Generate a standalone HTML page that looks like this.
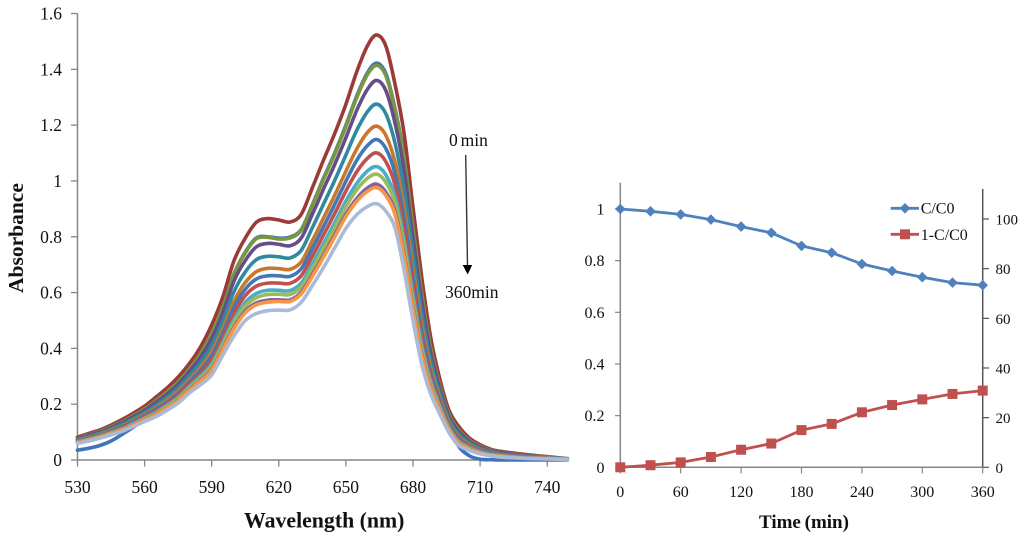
<!DOCTYPE html>
<html lang="en">
<head>
<meta charset="utf-8">
<title>Absorbance spectra and degradation over time</title>
<style>
html,body{margin:0;padding:0;background:#fff;}
svg{display:block;font-family:"Liberation Serif",serif;filter:blur(0.35px);}
text{fill:#111;}
.tl{font-size:17.5px;}
.tr{font-size:16px;}
</style>
</head>
<body>
<svg id="figure" xmlns="http://www.w3.org/2000/svg" width="1024" height="541" viewBox="0 0 1024 541">
  <rect width="1024" height="541" fill="#fff"/>
  <g id="spectra-chart"></g>
  <g id="kinetics-chart"></g>
  <text transform="translate(23,293) rotate(-90)" font-size="21.5" font-weight="bold">Absorbance</text>
  <text x="244" y="527.5" font-size="21.8" font-weight="bold">Wavelength (nm)</text>
  <text x="449" y="146" font-size="17.5" word-spacing="-1.5">0 min</text>
  <line x1="465.7" y1="155" x2="467.5" y2="266" stroke="#333" stroke-width="1.4"/>
  <polygon points="462.7,265 472.2,265 467.7,274.5" fill="#000"/>
  <text x="445" y="298" font-size="17.5">360min</text>
  <text x="759" y="528" font-size="19" font-weight="bold" word-spacing="-1">Time (min)</text>
  <g>
    <line x1="890.7" y1="208.3" x2="919" y2="208.3" stroke="#4f81bd" stroke-width="2.8"/>
    <polygon points="905,203 910.3,208.3 905,213.6 899.7,208.3" fill="#4f81bd"/>
    <text x="920.7" y="213.5" font-size="16">C/C0</text>
    <line x1="890.7" y1="234.3" x2="919" y2="234.3" stroke="#c0504d" stroke-width="2.8"/>
    <rect x="900" y="229.3" width="10" height="10" fill="#c0504d"/>
    <text x="920.7" y="240" font-size="16">1-C/C0</text>
  </g>
</svg>
<script>
const wavelengths = [530,535,540,545,550,555,560,565,570,575,580,585,590,595,600,605,610,615,620,625,630,635,640,645,650,655,660,664,668,672,676,680,684,688,692,696,700,705,710,715,720,730,740,749];
const spectrumBlue = [.035,.042,.052,.068,.092,.118,.145,.185,.235,.281,.327,.382,.453,.548,.668,.745,.796,.800,.795,.799,.826,.915,1.010,1.100,1.200,1.308,1.393,1.422,1.382,1.258,1.088,.836,.596,.400,.262,.145,.055,.016,.003,.001,0,0,0,0];
const spectrumMaroon = [.082,.095,.108,.125,.145,.168,.193,.225,.258,.297,.345,.405,.484,.585,.715,.795,.852,.865,.860,.853,.880,.975,1.075,1.170,1.275,1.395,1.490,1.523,1.480,1.345,1.170,.905,.650,.435,.290,.180,.125,.080,.055,.038,.030,.020,.012,.005];
const spectrumGreen = [.078,.090,.103,.119,.137,.159,.183,.212,.244,.280,.326,.381,.452,.547,.666,.742,.793,.798,.792,.796,.823,.912,1.006,1.096,1.195,1.302,1.386,1.414,1.374,1.252,1.082,.832,.594,.399,.267,.166,.112,.072,.049,.034,.026,.017,.011,.004];
const spectrumPurple = [.076,.088,.100,.116,.134,.155,.178,.206,.236,.272,.317,.369,.436,.529,.642,.715,.764,.776,.773,.768,.795,.880,.971,1.059,1.155,1.256,1.333,1.360,1.321,1.206,1.038,.796,.566,.381,.256,.158,.106,.068,.046,.032,.025,.016,.010,.004];
const spectrumTeal = [.073,.084,.096,.111,.128,.148,.170,.196,.225,.259,.302,.350,.411,.499,.604,.674,.718,.730,.728,.724,.751,.832,.917,1.002,1.093,1.184,1.252,1.275,1.238,1.134,.969,.739,.523,.353,.239,.147,.096,.062,.041,.029,.022,.014,.009,.004];
const spectrumOrange = [.070,.080,.092,.106,.122,.142,.163,.187,.215,.247,.288,.332,.387,.472,.569,.636,.675,.687,.686,.683,.710,.786,.867,.949,1.035,1.117,1.177,1.196,1.161,1.067,.905,.686,.483,.327,.223,.137,.087,.056,.037,.026,.019,.012,.008,.003];
const spectrumMidBlue = [.068,.078,.089,.103,.119,.138,.159,.182,.208,.239,.280,.321,.373,.455,.548,.612,.649,.660,.660,.658,.685,.758,.836,.916,.999,1.076,1.130,1.148,1.114,1.026,.866,.654,.458,.311,.213,.130,.082,.052,.035,.024,.018,.011,.007,.003];
const spectrumRed = [.067,.076,.087,.101,.116,.134,.155,.176,.202,.232,.272,.311,.359,.439,.526,.589,.623,.634,.634,.633,.660,.730,.806,.883,.964,1.035,1.084,1.100,1.067,.985,.827,.622,.433,.295,.203,.124,.076,.049,.032,.022,.016,.010,.006,.003];
const spectrumLightTeal = [.065,.074,.085,.098,.112,.131,.150,.170,.196,.224,.263,.300,.344,.422,.504,.565,.597,.608,.608,.607,.634,.702,.775,.850,.928,.993,1.038,1.051,1.020,.943,.788,.589,.408,.279,.193,.118,.070,.045,.029,.020,.014,.009,.006,.003];
const spectrumLightGreen = [.064,.073,.083,.096,.110,.128,.148,.167,.192,.220,.258,.294,.336,.413,.492,.552,.582,.593,.594,.593,.620,.686,.757,.832,.908,.970,1.012,1.024,.993,.920,.766,.571,.394,.270,.187,.114,.067,.043,.028,.019,.014,.008,.005,.003];
const spectrumLightPurple = [.063,.071,.081,.094,.108,.126,.144,.163,.187,.215,.252,.286,.326,.400,.476,.534,.563,.573,.574,.574,.601,.665,.734,.807,.881,.939,.977,.988,.958,.889,.736,.547,.376,.258,.179,.109,.063,.040,.026,.018,.012,.008,.005,.002];
const spectrumLightOrange = [.062,.071,.081,.093,.107,.125,.143,.162,.186,.213,.250,.283,.322,.396,.471,.528,.556,.566,.568,.568,.595,.658,.727,.799,.872,.929,.965,.976,.946,.879,.727,.538,.369,.254,.177,.108,.062,.039,.025,.017,.012,.007,.005,.002];
const spectrumPaleBlue = [.060,.068,.078,.090,.103,.120,.138,.155,.178,.204,.240,.270,.305,.376,.445,.500,.525,.535,.537,.538,.565,.625,.690,.760,.830,.880,.910,.918,.890,.830,.680,.500,.340,.235,.165,.100,.055,.035,.022,.015,.010,.006,.004,.002];
const absorbanceTicks = [0,0.2,0.4,0.6,0.8,1,1.2,1.4,1.6];
const wavelengthTicks = [530,560,590,620,650,680,710,740];

const timeMinutes = [0,30,60,90,120,150,180,210,240,270,300,330,360];
const concentrationRatio = [1,.991,.979,.959,.932,.908,.857,.831,.787,.760,.736,.715,.705];
const removedFraction = [0,.008,.019,.040,.068,.092,.144,.168,.213,.241,.263,.284,.297];
const ratioTicks = [0,0.2,0.4,0.6,0.8,1];
const percentTicks = [0,20,40,60,80,100];
const timeTicks = [0,60,120,180,240,300,360];

const spectraOrder = [spectrumBlue,spectrumMaroon,spectrumGreen,spectrumPurple,spectrumTeal,spectrumOrange,spectrumMidBlue,spectrumRed,spectrumLightTeal,spectrumLightGreen,spectrumLightPurple,spectrumLightOrange,spectrumPaleBlue];
const spectraColors = ['#3f74b5','#9a3b38','#78973f','#664d88','#2f8a9f','#c9772c','#4178b8','#c0504d','#4bacc6','#9bbb59','#8064a2','#f79646','#a9bbd9'];

const SVG_NS = 'http://www.w3.org/2000/svg';
function make(parent, tag, attrs, content) {
  const el = document.createElementNS(SVG_NS, tag);
  for (const k in attrs) el.setAttribute(k, attrs[k]);
  if (content !== undefined) el.textContent = content;
  parent.appendChild(el);
  return el;
}

/* Axis functions: spectra chart */
function xWave(v) { return 77.5 + (v - 530) * 67.1 / 30; }
function yAbs(v) { return 460 - v * 279.06; }
/* Axis functions: kinetics chart */
function xTime(v) { return 620.3 + v * 362.4 / 360; }
function yRatio(v) { return 467.3 - v * 258.3; }
function yPercent(v) { return 467.3 - v * 2.483; }

/* Catmull-Rom smoothing through the data points */
function smoothPath(xs, ys) {
  let d = 'M' + xs[0].toFixed(1) + ' ' + ys[0].toFixed(1);
  for (let i = 0; i < xs.length - 1; i++) {
    const p0 = Math.max(i - 1, 0);
    const p3 = Math.min(i + 2, xs.length - 1);
    const c1x = xs[i] + (xs[i + 1] - xs[p0]) / 6;
    const c1y = ys[i] + (ys[i + 1] - ys[p0]) / 6;
    const c2x = xs[i + 1] - (xs[p3] - xs[i]) / 6;
    const c2y = ys[i + 1] - (ys[p3] - ys[i]) / 6;
    d += 'C' + c1x.toFixed(1) + ' ' + c1y.toFixed(1) + ' ' + c2x.toFixed(1) + ' ' + c2y.toFixed(1) + ' ' + xs[i + 1].toFixed(1) + ' ' + ys[i + 1].toFixed(1);
  }
  return d;
}

const left = document.getElementById('spectra-chart');
const right = document.getElementById('kinetics-chart');
const axisGray = '#868686';

/* Spectra chart axes */
const leftYAxis = make(left, 'line', {x1:xWave(530), y1:yAbs(1.6), x2:xWave(530), y2:yAbs(0), stroke:axisGray, 'stroke-width':1.5});


const leftXAxis = make(left, 'line', {x1:xWave(530), y1:yAbs(0), x2:569, y2:yAbs(0), stroke:axisGray, 'stroke-width':1.5});



absorbanceTicks.forEach(function (v) {
  const tick = make(left, 'line', {x1:71, y1:yAbs(v), x2:xWave(530), y2:yAbs(v), stroke:axisGray, 'stroke-width':1.3});
  
  
  const label = make(left, 'text', {x:62, y:yAbs(v) + 6, 'text-anchor':'end', class:'tl'}, String(v));
  
  
});
wavelengthTicks.forEach(function (v) {
  const tick = make(left, 'line', {x1:xWave(v), y1:yAbs(0), x2:xWave(v), y2:466.5, stroke:axisGray, 'stroke-width':1.3});
  
  
  const label = make(left, 'text', {x:xWave(v), y:493, 'text-anchor':'middle', class:'tl'}, String(v));
  
  
});

/* Spectra curves */
const waveXs = wavelengths.map(xWave);
spectraOrder.forEach(function (values, i) {
  const d = smoothPath(waveXs, values.map(yAbs));
  const curve = make(left, 'path', {d:d, fill:'none', stroke:spectraColors[i], 'stroke-width':3.6, 'stroke-linejoin':'round', 'stroke-linecap':'round'});
  
  
});

/* Kinetics chart axes */
const ratioAxis = make(right, 'line', {x1:xTime(0), y1:182.7, x2:xTime(0), y2:yRatio(0), stroke:axisGray, 'stroke-width':1.5});


const percentAxis = make(right, 'line', {x1:xTime(360), y1:189, x2:xTime(360), y2:yRatio(0), stroke:'#555', 'stroke-width':1.5});


const timeAxis = make(right, 'line', {x1:xTime(0), y1:yRatio(0), x2:xTime(360), y2:yRatio(0), stroke:axisGray, 'stroke-width':1.5});



ratioTicks.forEach(function (v) {
  const tick = make(right, 'line', {x1:615, y1:yRatio(v), x2:xTime(0), y2:yRatio(v), stroke:axisGray, 'stroke-width':1.2});
  
  
  const label = make(right, 'text', {x:604.5, y:yRatio(v) + 5.5, 'text-anchor':'end', class:'tr'}, String(v));
  
  
});
percentTicks.forEach(function (v) {
  const tick = make(right, 'line', {x1:xTime(360), y1:yPercent(v), x2:989, y2:yPercent(v), stroke:'#555', 'stroke-width':1.2});
  
  
  const label = make(right, 'text', {x:995.5, y:yPercent(v) + 5.5, class:'tr', 'font-size':'15px', style:'font-size:15px'}, String(v));
  
  
});
timeTicks.forEach(function (v) {
  const tick = make(right, 'line', {x1:xTime(v), y1:yRatio(0), x2:xTime(v), y2:473.5, stroke:axisGray, 'stroke-width':1.2});
  
  
  const label = make(right, 'text', {x:xTime(v), y:497, 'text-anchor':'middle', class:'tr'}, String(v));
  
  
});

/* Kinetics series */
const ratioPath = concentrationRatio.map(function (v, i) {
  return (i ? 'L' : 'M') + xTime(timeMinutes[i]).toFixed(1) + ' ' + yRatio(v).toFixed(1);
}).join('');
const ratioLine = make(right, 'path', {d:ratioPath, fill:'none', stroke:'#4f81bd', 'stroke-width':2.8, 'stroke-linejoin':'round'});


concentrationRatio.forEach(function (v, i) {
  const cx = xTime(timeMinutes[i]);
  const cy = yRatio(v);
  const marker = make(right, 'polygon', {points:cx + ',' + (cy - 5.3) + ' ' + (cx + 5.3) + ',' + cy + ' ' + cx + ',' + (cy + 5.3) + ' ' + (cx - 5.3) + ',' + cy, fill:'#4f81bd'});
  
  
});
const removedPath = removedFraction.map(function (v, i) {
  return (i ? 'L' : 'M') + xTime(timeMinutes[i]).toFixed(1) + ' ' + yRatio(v).toFixed(1);
}).join('');
const removedLine = make(right, 'path', {d:removedPath, fill:'none', stroke:'#c0504d', 'stroke-width':2.8, 'stroke-linejoin':'round'});


removedFraction.forEach(function (v, i) {
  const marker = make(right, 'rect', {x:xTime(timeMinutes[i]) - 5, y:yRatio(v) - 5, width:10, height:10, fill:'#c0504d'});
  
  
});
</script>
</body>
</html>
